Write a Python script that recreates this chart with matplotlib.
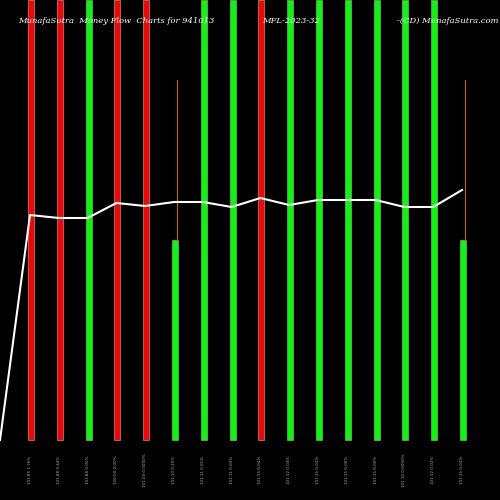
import matplotlib
matplotlib.use("Agg")
import matplotlib.pyplot as plt

colors = ["red", "red", "lime", "red", "red", "lime", "lime", "lime",
          "red", "lime", "lime", "lime", "lime", "lime", "lime", "lime"]
bar_heights = [440, 440, 440, 440, 440, 200, 440, 440,
               440, 440, 440, 440, 440, 440, 440, 200]
wick_top = [None] * 5 + [360] + [None] * 9 + [360]
line_values = [0, 225, 222, 222, 237, 234, 238, 238, 233, 242, 235, 240, 240, 240, 233, 233, 250]
labels = ["101.85 1.76%", "101.88 0.44%", "101.88 0.00%", "100.00 0.00%",
          "101.00 0.0000%", "101.10 0.10%", "101.11 0.01%", "101.11 0.00%",
          "101.15 0.04%", "101.12 0.03%", "101.15 0.03%", "101.15 0.00%",
          "101.15 0.00%", "101.10 0.0000%", "101.12 0.02%", "101.15 0.03%"]

fig = plt.figure(figsize=(5, 5), dpi=100, facecolor="black")
ax = fig.add_axes([0, 0, 1, 1])
ax.set_facecolor("black")
ax.set_xlim(0, 500)
ax.set_ylim(-60, 440)
ax.axis("off")

xs = [30 + i * 28.8 for i in range(len(colors))]
for x, h, c, w in zip(xs, bar_heights, colors, wick_top):
    if w is not None:
        ax.plot([x + 3, x + 3], [h, w], color="#cc6600", lw=0.8)
    ax.bar(x + 1, h, width=6, bottom=0, color=c, edgecolor="#999999", lw=0.5)

ax.plot([0] + xs, line_values, color="white", lw=1.5)

for x, lab in zip(xs, labels):
    ax.text(x, -30, lab, rotation=90, color="#aaaaaa", fontsize=3,
            ha="center", va="center")

ax.text(18, 419, "MunafaSutra  Money Flow  Charts for 941013", color="white",
        fontsize=6, family="DejaVu Serif", style="italic", va="center")
ax.text(262, 419, "MFL-2023-32", color="white", fontsize=6,
        family="DejaVu Serif", style="italic", va="center")
ax.text(397, 419, "-(CD) MunafaSutra.com", color="white", fontsize=6,
        family="DejaVu Serif", style="italic", va="center")

fig.savefig("out.png", dpi=100, facecolor="black")
